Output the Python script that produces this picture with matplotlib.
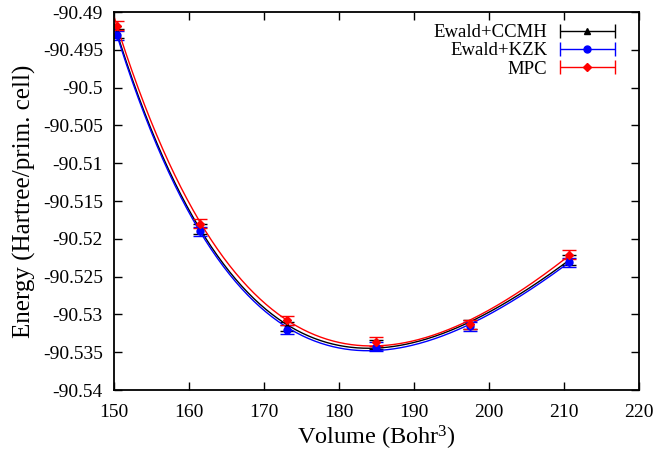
import numpy as np
import matplotlib
matplotlib.use("Agg")
import matplotlib.pyplot as plt
from matplotlib.legend_handler import HandlerErrorbar

plt.rcParams['font.family'] = ['Liberation Serif', 'DejaVu Serif']
plt.rcParams['mathtext.fontset'] = 'custom'
plt.rcParams['mathtext.rm'] = 'Liberation Serif'
plt.rcParams['mathtext.it'] = 'Liberation Serif:italic'

volume = [150.4, 161.5, 173.0, 184.9, 197.5, 210.6]
e_ccmh = [-90.4928, -90.5187, -90.5316, -90.5340, -90.5313, -90.5228]
e_kzk = [-90.4931, -90.5190, -90.5320, -90.5343, -90.5316, -90.5231]
e_mpc = [-90.4918, -90.5180, -90.5308, -90.5336, -90.5313, -90.5221]
err_ccmh = [0.0006, 0.0006, 0.0006, 0.0006, 0.0006, 0.0006]
err_kzk = [0.0006, 0.0006, 0.0006, 0.0006, 0.0006, 0.0006]
err_mpc = [0.0006, 0.0006, 0.0006, 0.0006, 0.0006, 0.0006]

labels = ['Ewald+CCMH', 'Ewald+KZK', 'MPC']
colors = ['black', 'blue', 'red']
markers = ['^', 'o', 'D']
msizes = [5, 5, 4]

fig = plt.figure(figsize=(6.57, 4.61), dpi=100)
ax = fig.add_axes([114/657, 1-390/461, (639-114)/657, (390-12)/461])

v = np.asarray(volume)
vfit = np.linspace(150.0, 210.6, 300)
handles = []
for e, err, lab, c, m, ms in zip([e_ccmh, e_kzk, e_mpc], [err_ccmh, err_kzk, err_mpc],
                                 labels, colors, markers, msizes):
    # Birch-Murnaghan style fit: cubic polynomial in V^(-2/3)
    coeffs = np.polyfit(v ** (-2.0 / 3.0), e, 3)
    ax.plot(vfit, np.polyval(coeffs, vfit ** (-2.0 / 3.0)), color=c, lw=1.0)
    ax.errorbar(volume, e, yerr=err, fmt=m, color=c, ms=ms, lw=1.0,
                capsize=5, capthick=1.0)
    h = ax.errorbar([np.nan], [np.nan], xerr=[1.0], fmt=m, color=c, ms=ms, lw=1.0,
                    capsize=5, capthick=1.0, label=lab)
    handles.append(h)

ax.set_xlim(150, 220)
ax.set_ylim(-90.54, -90.49)
ax.set_xticks(np.arange(150, 221, 10))
yt = np.arange(-90.54, -90.4899, 0.005)
ax.set_yticks(yt)
ax.set_yticklabels(['%g' % round(val, 3) for val in yt])
ax.tick_params(direction='in', top=True, right=True, labelsize=14, length=6, width=1)
ax.tick_params(axis='x', pad=10)
ax.tick_params(axis='y', pad=8)
for s in ax.spines.values():
    s.set_linewidth(1.3)

ax.set_xlabel('Volume (Bohr$^{3}$)', fontsize=17.5, labelpad=2)
ax.set_ylabel('Energy (Hartree/prim. cell)', fontsize=18, labelpad=5)

leg = ax.legend(handles=handles, labels=labels, loc='upper right', markerfirst=False,
                frameon=False, fontsize=13.5,
                handlelength=2.9, handletextpad=0.7, labelspacing=0.05,
                borderaxespad=0.9, bbox_to_anchor=(1.0, 1.032),
                handler_map={h: HandlerErrorbar(xerr_size=1.45) for h in handles})
fig.savefig('out.png', dpi=100)
